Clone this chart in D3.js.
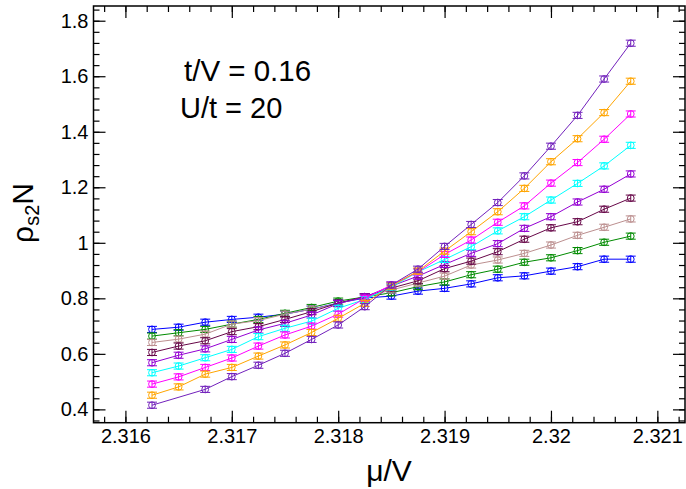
<!DOCTYPE html>
<html>
<head>
<meta charset="utf-8">
<script src="https://cdn.jsdelivr.net/npm/d3@7"></script>
<style>
  body { margin: 0; background: #fff; }
  svg { display: block; font-family: "Liberation Sans", Arial, sans-serif; }
</style>
</head>
<body>
<div id="frame"></div>
<script>
const width = 686
const height = 489
const margin = { left: 93.5, right: 1, top: 6, bottom: 66.3 }

// mu/V sample points
const mu = [2.31625, 2.3165, 2.31675, 2.317, 2.31725, 2.3175, 2.31775, 2.318, 2.31825, 2.3185,
  2.31875, 2.319, 2.31925, 2.3195, 2.31975, 2.32, 2.32025, 2.3205, 2.32075]

// rho_s2 N for each set (null = no point)
const blue = [0.688, 0.696, 0.714, 0.724, 0.732, 0.743, 0.761, 0.783, 0.801, 0.808, 0.826, 0.836, 0.852, 0.874, 0.881, 0.898, 0.914, 0.941, 0.941]
const green = [0.664, 0.676, 0.688, 0.707, 0.724, 0.746, 0.767, 0.790, 0.805, 0.820, 0.842, 0.859, 0.885, 0.905, 0.930, 0.946, 0.972, 1.002, 1.024]
const brown = [0.641, 0.653, 0.671, 0.707, 0.720, 0.743, 0.761, 0.781, 0.805, 0.830, 0.855, 0.880, 0.920, 0.938, 0.962, 0.992, 1.027, 1.056, 1.086]
const maroon = [0.605, 0.628, 0.647, 0.680, 0.698, 0.724, 0.752, 0.783, 0.806, 0.837, 0.863, 0.907, 0.934, 0.968, 1.013, 1.054, 1.076, 1.121, 1.161]
const violet = [0.568, 0.595, 0.618, 0.652, 0.686, 0.710, 0.740, 0.781, 0.805, 0.844, 0.880, 0.922, 0.962, 0.997, 1.052, 1.094, 1.147, 1.193, 1.248]
const cyan = [0.532, 0.556, 0.586, 0.616, 0.662, 0.692, 0.718, 0.764, 0.796, 0.841, 0.895, 0.940, 0.986, 1.043, 1.094, 1.154, 1.214, 1.277, 1.351]
const magenta = [0.491, 0.517, 0.551, 0.585, 0.628, 0.668, 0.700, 0.743, 0.800, 0.848, 0.895, 0.958, 1.010, 1.074, 1.133, 1.215, 1.289, 1.373, 1.464]
const orange = [0.451, 0.481, 0.527, 0.551, 0.592, 0.632, 0.677, 0.728, 0.782, 0.844, 0.898, 0.970, 1.040, 1.112, 1.196, 1.292, 1.375, 1.469, 1.582]
const indigo = [0.415, null, 0.472, 0.518, 0.559, 0.602, 0.652, 0.704, 0.770, 0.848, 0.905, 0.987, 1.066, 1.145, 1.241, 1.348, 1.459, 1.590, 1.719]

const sets = [blue, green, brown, maroon, violet, cyan, magenta, orange, indigo]
const colors = ['#0000ff', '#008b00', '#bc8f8f', '#670748', '#9400d3', '#00ffff', '#ff00ff', '#ffa500', '#7221bc']
const sigma = [0.011, 0.011, 0.011, 0.011, 0.011, 0.011, 0.011, 0.011, 0.011]

const xMajor = [2.316, 2.317, 2.318, 2.319, 2.32, 2.321]
const xLabels = ['2.316', '2.317', '2.318', '2.319', '2.32', '2.321']
const yMajor = [0.4, 0.6, 0.8, 1.0, 1.2, 1.4, 1.6, 1.8]
const yLabels = ['0.4', '0.6', '0.8', '1', '1.2', '1.4', '1.6', '1.8']

const x = d3.scaleLinear()
  .domain([2.3157, 2.32126])
  .range([margin.left, width - margin.right])
const y = d3.scaleLinear()
  .domain([0.352, 1.853])
  .range([height - margin.bottom, margin.top])

const xMinor = d3.range(0, 28).map(i => +(2.3158 + i * 0.0002).toFixed(4))
const yMinor = d3.range(0, 38).map(i => +(0.36 + i * 0.04).toFixed(2))

const svg = d3.select('#frame')
  .append('svg')
  .attr('width', width)
  .attr('height', height)

const x0 = x.range()[0], x1 = x.range()[1]
const y0 = y.range()[0], y1 = y.range()[1]

function styleAxis(g) {
  g.select('.domain').remove()
  g.selectAll('.tick line').attr('stroke', '#000').attr('stroke-width', 1.2)
  g.selectAll('text').attr('fill', '#000').attr('font-size', 20)
}

function drawAxis(axis, translate, values, size, labels) {
  const g = svg.append('g')
    .attr('transform', translate)
    .call(axis.tickValues(values).tickSize(-size).tickSizeOuter(0)
      .tickFormat(labels ? (d, i) => labels[i] : () => ''))
  styleAxis(g)
  return g
}

// minor + major ticks on all four sides, pointing inward
drawAxis(d3.axisBottom(x), `translate(0,${y0})`, xMinor, 6)
drawAxis(d3.axisTop(x), `translate(0,${y1})`, xMinor, 6)
drawAxis(d3.axisLeft(y), `translate(${x0},0)`, yMinor, 6)
drawAxis(d3.axisRight(y), `translate(${x1},0)`, yMinor, 6)

drawAxis(d3.axisBottom(x).tickPadding(6), `translate(0,${y0})`, xMajor, 12, xLabels)
drawAxis(d3.axisTop(x), `translate(0,${y1})`, xMajor, 12)
drawAxis(d3.axisLeft(y).tickPadding(5), `translate(${x0},0)`, yMajor, 12, yLabels)
drawAxis(d3.axisRight(y), `translate(${x1},0)`, yMajor, 12)

svg.append('rect')
  .attr('x', x0)
  .attr('y', y1)
  .attr('width', x1 - x0)
  .attr('height', y0 - y1)
  .attr('fill', 'none')
  .attr('stroke', '#000')
  .attr('stroke-width', 1.5)

const line = d3.line()
  .x(d => x(d.mu))
  .y(d => y(d.v))

const plot = svg.append('g')

sets.forEach((vals, k) => {
  const pts = vals
    .map((v, i) => ({ mu: mu[i], v }))
    .filter(d => d.v !== null)
  const color = colors[k]
  const err = sigma[k]
  const g = plot.append('g')
    .attr('stroke', color)
    .attr('fill', 'none')

  g.append('path')
    .datum(pts)
    .attr('d', line)
    .attr('stroke-width', 1)

  const sym = g.selectAll('.pt')
    .data(pts)
    .join('g')
    .attr('class', 'pt')
    .attr('stroke-width', 1)

  sym.append('line')
    .attr('x1', d => x(d.mu))
    .attr('x2', d => x(d.mu))
    .attr('y1', d => y(d.v - err))
    .attr('y2', d => y(d.v + err))
  sym.append('line')
    .attr('x1', d => x(d.mu) - 5)
    .attr('x2', d => x(d.mu) + 5)
    .attr('y1', d => y(d.v + err))
    .attr('y2', d => y(d.v + err))
  sym.append('line')
    .attr('x1', d => x(d.mu) - 5)
    .attr('x2', d => x(d.mu) + 5)
    .attr('y1', d => y(d.v - err))
    .attr('y2', d => y(d.v - err))
  sym.append('circle')
    .attr('cx', d => x(d.mu))
    .attr('cy', d => y(d.v))
    .attr('r', 3.4)
})

// annotations
svg.append('text')
  .attr('x', 184)
  .attr('y', 81)
  .attr('font-size', 29.5)
  .text('t/V = 0.16')
svg.append('text')
  .attr('x', 180)
  .attr('y', 118)
  .attr('font-size', 29)
  .text('U/t = 20')

// axis titles
svg.append('text')
  .attr('x', 389)
  .attr('y', 481)
  .attr('text-anchor', 'middle')
  .attr('font-size', 30)
  .text('μ/V')

const yTitle = svg.append('text')
  .attr('transform', 'translate(33,213) rotate(-90)')
  .attr('text-anchor', 'middle')
  .attr('font-size', 30)
yTitle.append('tspan').text('ρ')
yTitle.append('tspan').attr('font-size', 20).attr('dy', 6).text('s2')
yTitle.append('tspan').attr('dy', -6).text('N')
</script>
</body>
</html>
